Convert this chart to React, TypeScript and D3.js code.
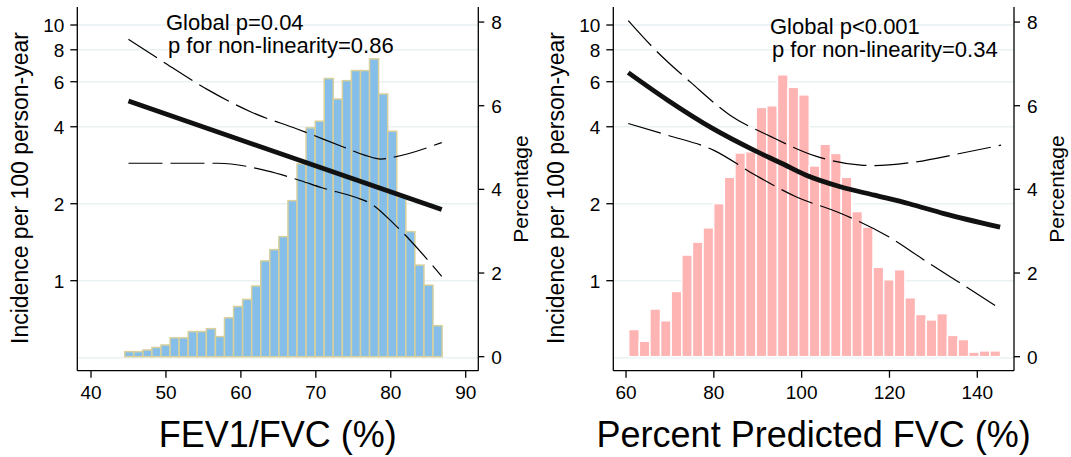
import * as d3 from "d3";

const W = 1071;
const H = 457;

// shared axes
const incTicks = [1, 2, 4, 6, 8, 10];
const incGrid = [0.5, 1, 2, 4, 6, 8, 10];
const pctTicks = [0, 2, 4, 6, 8];

// left panel: FEV1/FVC
const fevTicks = [40, 50, 60, 70, 80, 90];
const fevBinStart = 44.5;
const fevBinWidth = 1.21;
const fevPct = [
  0.12, 0.12, 0.16, 0.22, 0.28, 0.45, 0.45, 0.6, 0.6, 0.67, 0.48, 0.93, 1.2, 1.37, 1.69, 2.29, 2.56, 2.87,
  3.73, 4.61, 5.47, 5.63, 6.65, 6.16, 6.6, 6.84, 6.84, 7.12, 6.28, 5.39, 3.82, 2.99, 2.19, 1.71, 0.74,
];
const fevFitX = [45, 86.8];
const fevFitY = [5.04, 1.9];
const fevUpX = [45, 49.4, 55.5, 61.5, 67.5, 73.5, 76.5, 78.7, 80.3, 86.8];
const fevUpY = [8.79, 7.25, 5.6, 4.55, 3.92, 3.35, 3.1, 2.99, 3.04, 3.47];
const fevLoX = [45, 56.9, 63.5, 68, 70.8, 75.5, 77.1, 80.6, 85.1, 86.8];
const fevLoY = [2.88, 2.88, 2.69, 2.46, 2.31, 2.11, 2.02, 1.65, 1.19, 1.04];

// right panel: percent predicted FVC
const fvcTicks = [60, 80, 100, 120, 140];
const fvcBinStart = 60.6;
const fvcBinWidth = 2.42;
const fvcPct = [
  0.65, 0.37, 1.14, 0.86, 1.56, 2.43, 2.74, 3.08, 3.66, 4.29, 4.87, 4.9, 5.96, 6.0, 6.74, 6.44, 6.26, 4.56,
  5.08, 4.86, 4.29, 3.47, 3.1, 2.14, 1.84, 2.08, 1.41, 1.01, 0.88, 1.03, 0.51, 0.41, 0.11, 0.14, 0.14,
];
const fvcFitX = [60.5, 69.4, 79.7, 89.1, 95.4, 100.9, 108.8, 116.6, 124.5, 132.4, 145.2];
const fvcFitY = [6.51, 5.09, 3.94, 3.24, 2.88, 2.59, 2.33, 2.16, 2.0, 1.83, 1.62];
const fvcUpX = [60.5, 66.7, 75, 83.6, 93, 103.2, 113.5, 116.6, 124.5, 136.3, 145.4];
const fvcUpY = [10.4, 7.98, 5.91, 4.45, 3.66, 3.07, 2.83, 2.82, 2.89, 3.15, 3.39];
const fvcLoX = [60.5, 69.4, 79.9, 89.4, 98.7, 108.7, 119.4, 128.7, 137.3, 145.4];
const fvcLoY = [4.12, 3.71, 3.24, 2.59, 2.13, 1.84, 1.5, 1.18, 0.95, 0.773];

const zip = (xs: number[], ys: number[]) => xs.map((v, i) => [v, ys[i]] as [number, number]);

type PanelProps = {
  left: number;
  right: number;
  xDomain: [number, number];
  xTicks: number[];
  title: string;
  binStart: number;
  binWidth: number;
  pct: number[];
  fill: string;
  edge: string;
  fit: [number, number][];
  upper: [number, number][];
  lower: [number, number][];
  note1: string;
  note2: string;
  noteX: number;
  noteY: number;
};

function Panel(p: PanelProps) {
  const top = 7;
  const bottom = 370.7;
  const x = d3.scaleLinear().domain(p.xDomain).range([p.left, p.right]);
  const y = d3.scaleLog().domain([0.4446, 11.76]).range([bottom, top]);
  const yp = d3.scaleLinear().domain([-0.335, 8.36]).range([bottom, top]);
  const line = d3
    .line<[number, number]>()
    .x((d) => x(d[0]))
    .y((d) => y(d[1]))
    .curve(d3.curveMonotoneX);
  const cx = (p.left + p.right) / 2;

  return (
    <g>
      {incGrid.map((t) => (
        <line key={"g" + t} x1={p.left} x2={p.right} y1={y(t)} y2={y(t)} stroke="#e9f1f3" strokeWidth={1.5} />
      ))}
      {p.pct.map((v, i) => {
        const x0 = x(p.binStart + i * p.binWidth);
        const x1 = x(p.binStart + (i + 1) * p.binWidth);
        return (
          <rect
            key={"b" + i}
            x={x0}
            y={yp(v)}
            width={x1 - x0}
            height={yp(0) - yp(v)}
            fill={p.fill}
            stroke={p.edge}
            strokeWidth={1.5}
          />
        );
      })}
      <path d={line(p.upper) || ""} fill="none" stroke="#000" strokeWidth={1.2} strokeDasharray="34 8" />
      <path d={line(p.lower) || ""} fill="none" stroke="#000" strokeWidth={1.2} strokeDasharray="34 8" />
      <path d={line(p.fit) || ""} fill="none" stroke="#111" strokeWidth={4.8} />

      {/* axes */}
      <line x1={p.left} x2={p.left} y1={top} y2={bottom} stroke="#000" strokeWidth={1.3} />
      <line x1={p.right} x2={p.right} y1={top} y2={bottom} stroke="#000" strokeWidth={1.3} />
      <line x1={p.left} x2={p.right} y1={bottom} y2={bottom} stroke="#000" strokeWidth={1.3} />
      {incTicks.map((t) => (
        <g key={"yl" + t}>
          <line x1={p.left - 7} x2={p.left} y1={y(t)} y2={y(t)} stroke="#000" strokeWidth={1.3} />
          <text x={p.left - 13} y={y(t) + 7} textAnchor="end" fontSize={19}>
            {t}
          </text>
        </g>
      ))}
      {pctTicks.map((t) => (
        <g key={"yr" + t}>
          <line x1={p.right} x2={p.right + 6} y1={yp(t)} y2={yp(t)} stroke="#000" strokeWidth={1.3} />
          <text x={p.right + 13} y={yp(t) + 7} fontSize={19}>
            {t}
          </text>
        </g>
      ))}
      {p.xTicks.map((t) => (
        <g key={"x" + t}>
          <line x1={x(t)} x2={x(t)} y1={bottom} y2={bottom + 7} stroke="#000" strokeWidth={1.3} />
          <text x={x(t)} y={398.5} textAnchor="middle" fontSize={19}>
            {t}
          </text>
        </g>
      ))}
      <text x={cx} y={447} textAnchor="middle" fontSize={36}>
        {p.title}
      </text>
      <text transform={`translate(${p.left - 49},188) rotate(-90)`} textAnchor="middle" fontSize={23}>
        Incidence per 100 person-year
      </text>
      <text transform={`translate(${p.right + 50},189) rotate(-90)`} textAnchor="middle" fontSize={21}>
        Percentage
      </text>
      <text x={p.noteX} y={p.noteY} fontSize={22}>
        {p.note1}
      </text>
      <text x={p.noteX + 2} y={p.noteY + 23} fontSize={22}>
        {p.note2}
      </text>
    </g>
  );
}

export default function App() {
  return (
    <svg
      width={W}
      height={H}
      viewBox={`0 0 ${W} ${H}`}
      style={{ position: "absolute", left: 0, top: 0, background: "#fff" }}
      fontFamily="'Liberation Sans', Arial, Helvetica, sans-serif"
    >
      <rect width={W} height={H} fill="#fff" />
      <Panel
        left={77.3}
        right={478.3}
        xDomain={[38.17, 91.68]}
        xTicks={fevTicks}
        title="FEV1/FVC (%)"
        binStart={fevBinStart}
        binWidth={fevBinWidth}
        pct={fevPct}
        fill="#85bee8"
        edge="#d8d09c"
        fit={zip(fevFitX, fevFitY)}
        upper={zip(fevUpX, fevUpY)}
        lower={zip(fevLoX, fevLoY)}
        note1="Global p=0.04"
        note2="p for non-linearity=0.86"
        noteX={166}
        noteY={30}
      />
      <Panel
        left={613.3}
        right={1014}
        xDomain={[57.1, 148.36]}
        xTicks={fvcTicks}
        title="Percent Predicted FVC (%)"
        binStart={fvcBinStart}
        binWidth={fvcBinWidth}
        pct={fvcPct}
        fill="#ffb4b4"
        edge="#ffffff"
        fit={zip(fvcFitX, fvcFitY)}
        upper={zip(fvcUpX, fvcUpY)}
        lower={zip(fvcLoX, fvcLoY)}
        note1="Global p<0.001"
        note2="p for non-linearity=0.34"
        noteX={770}
        noteY={34}
      />
    </svg>
  );
}
